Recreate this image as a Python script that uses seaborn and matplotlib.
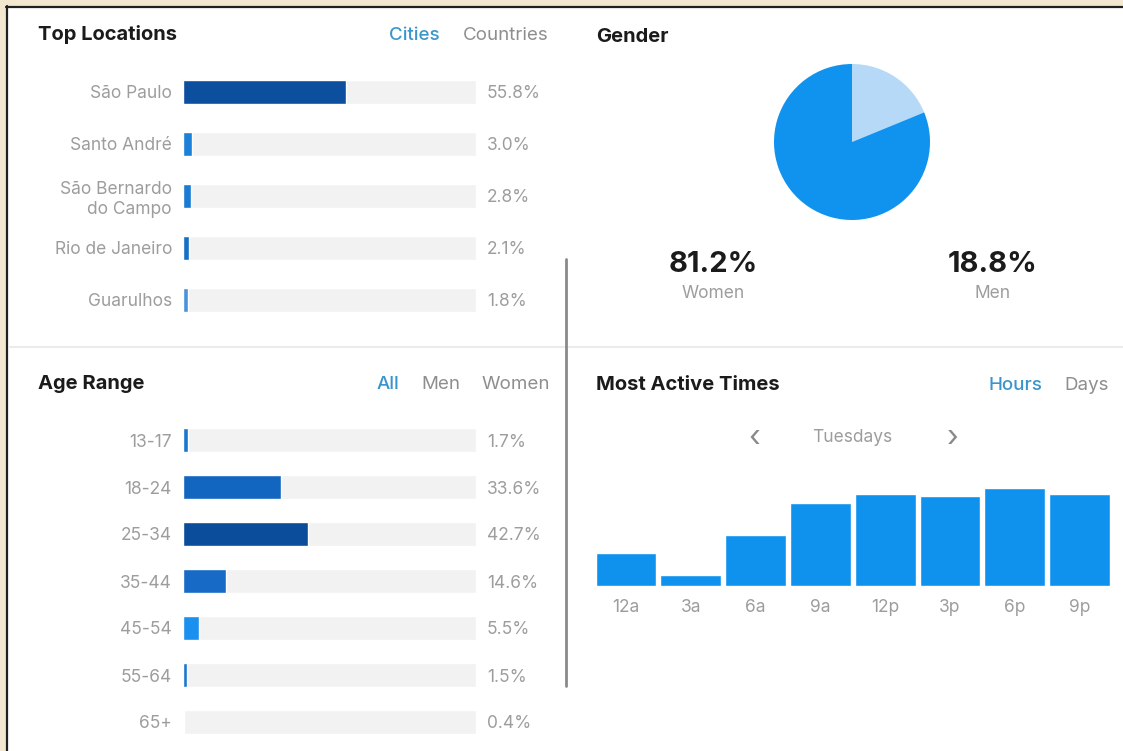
import matplotlib
matplotlib.use("Agg")
import matplotlib.pyplot as plt
import seaborn as sns
import pandas as pd
from matplotlib.lines import Line2D
from matplotlib.patches import Rectangle
import matplotlib.transforms as mtransforms

# ---------------- data ----------------
cities = ["São Paulo", "Santo André", "São Bernardo\ndo Campo", "Rio de Janeiro", "Guarulhos"]
city_pct = [55.8, 3.0, 2.8, 2.1, 1.8]

age_ranges = ["13-17", "18-24", "25-34", "35-44", "45-54", "55-64", "65+"]
age_pct = [1.7, 33.6, 42.7, 14.6, 5.5, 1.5, 0.4]

gender_labels = ["Men", "Women"]
gender_pct = [18.8, 81.2]

hours = ["12a", "3a", "6a", "9a", "12p", "3p", "6p", "9p"]
activity = [33, 11, 51, 83, 92, 90, 98, 92]

city_tabs = ["Cities", "Countries"]
age_tabs = ["All", "Men", "Women"]
time_tabs = ["Hours", "Days"]
day_label = "Tuesdays"

# ---------------- style ----------------
sns.set_theme(style="white")
plt.rcParams["font.family"] = ["Inter", "DejaVu Sans"]

W, H = 1123, 751
fig = plt.figure(figsize=(W / 100, H / 100), dpi=100)
fig.patch.set_facecolor("#f3e8cf")

TITLE_C = "#1b1b1b"
GRAY = "#9d9d9d"
TAB_ON = "#3a95cc"
TAB_OFF = "#8e8e8e"
TRACK = "#f2f2f2"
TITLE_FS = 14.5
LABEL_FS = 12.5
TAB_FS = 13.5

city_colors = ["#0c4f9f", "#1a80d8", "#1a7bd2", "#1670c4", "#4a93dc"]
age_colors = ["#1a78cf", "#1366c0", "#0b4d9b", "#176bc7", "#1c90ef", "#1a78cf", "#1a90ef"]
pie_colors = ["#b5d9f7", "#0f93ee"]
active_color = "#0f92ee"


def fx(x):
    return x / W


def fy(y):
    return 1 - y / H


def axes_px(x0, y0, x1, y1):
    ax = fig.add_axes([x0 / W, 1 - y1 / H, (x1 - x0) / W, (y1 - y0) / H])
    ax.set_facecolor("none")
    return ax


def ftext(x, y, s, **kw):
    kw.setdefault("va", "center_baseline")
    fig.text(fx(x), fy(y), s, **kw)


# white panel with dark left/top edge
fig.add_artist(Rectangle((fx(6), 0), 1 - fx(6), fy(6), transform=fig.transFigure,
                         facecolor="white", edgecolor="none", zorder=0))
fig.add_artist(Line2D([fx(6.5), fx(6.5)], [0, fy(6)], transform=fig.transFigure,
                      color="#202020", lw=1.6))
fig.add_artist(Line2D([fx(6), 1], [fy(6.5), fy(6.5)], transform=fig.transFigure,
                      color="#202020", lw=1.6))
# separators
fig.add_artist(Line2D([fx(10), 1], [fy(347), fy(347)], transform=fig.transFigure,
                      color="#ebebeb", lw=1.5))
fig.add_artist(Line2D([fx(566), fx(566)], [fy(259), fy(686)], transform=fig.transFigure,
                      color="#8a8a8a", lw=2))


def hbar_panel(ax, cats, vals, colors, width):
    df = pd.DataFrame({"cat": cats, "val": vals, "track": [100] * len(cats)})
    sns.barplot(data=df, x="track", y="cat", color=TRACK, width=width, ax=ax,
                saturation=1, order=cats)
    sns.barplot(data=df, x="val", y="cat", hue="cat", palette=colors, width=width,
                ax=ax, saturation=1, order=cats, hue_order=cats, legend=False)
    ax.set_xlim(0, 100)
    ax.set_ylim(len(cats) - 0.5, -0.5)
    ax.set_xlabel("")
    ax.set_ylabel("")
    ax.set_xticks([])
    ax.tick_params(axis="y", length=0, pad=8, labelsize=LABEL_FS, labelcolor=GRAY)
    for s in ax.spines.values():
        s.set_visible(False)
    trans = mtransforms.blended_transform_factory(ax.transAxes, ax.transData)
    for i, v in enumerate(vals):
        ax.text(1.0375, i, f"{v:.1f}%", transform=trans, va="center_baseline", ha="left",
                fontsize=LABEL_FS, color=GRAY)


# ---------------- Top Locations ----------------
ftext(38, 33, "Top Locations", fontsize=TITLE_FS, fontweight="bold", color=TITLE_C)
ftext(414, 33, city_tabs[0], fontsize=TAB_FS, color=TAB_ON, ha="center", fontweight="medium")
ftext(506, 33, city_tabs[1], fontsize=TAB_FS, color=TAB_OFF, ha="center")
ax1 = axes_px(183, 66, 476, 326)
hbar_panel(ax1, cities, city_pct, city_colors, 0.46)

# ---------------- Age Range ----------------
ftext(38, 382, "Age Range", fontsize=TITLE_FS, fontweight="bold", color=TITLE_C)
ftext(388, 382, age_tabs[0], fontsize=TAB_FS, color=TAB_ON, ha="center", fontweight="medium")
ftext(441, 382, age_tabs[1], fontsize=TAB_FS, color=TAB_OFF, ha="center")
ftext(516, 382, age_tabs[2], fontsize=TAB_FS, color=TAB_OFF, ha="center")
ax2 = axes_px(183, 416.5, 476, 745.5)
hbar_panel(ax2, age_ranges, age_pct, age_colors, 0.51)

# ---------------- Gender ----------------
ftext(596, 35, "Gender", fontsize=TITLE_FS, fontweight="bold", color=TITLE_C)
ax3 = axes_px(774, 64, 930, 220)
ax3.pie(gender_pct, colors=pie_colors, startangle=90, counterclock=False,
        wedgeprops=dict(linewidth=0))
ax3.set_xlim(-1, 1)
ax3.set_ylim(-1, 1)
ax3.set_aspect("equal")
ax3.axis("off")
for xc, lab, pct in [(713, gender_labels[1], gender_pct[1]), (993, gender_labels[0], gender_pct[0])]:
    ftext(xc, 261, f"{pct:.1f}%", fontsize=21, fontweight="bold", color=TITLE_C, ha="center")
    ftext(xc, 291, lab, fontsize=LABEL_FS, color=GRAY, ha="center")

# ---------------- Most Active Times ----------------
ftext(596, 383, "Most Active Times", fontsize=TITLE_FS, fontweight="bold", color=TITLE_C)
ftext(1015, 383, time_tabs[0], fontsize=TAB_FS, color=TAB_ON, ha="center", fontweight="medium")
ftext(1087, 383, time_tabs[1], fontsize=TAB_FS, color=TAB_OFF, ha="center")
ftext(754, 436, "‹", fontsize=22, color="#8a8a8a", ha="center")
ftext(852, 436, day_label, fontsize=LABEL_FS, color=GRAY, ha="center")
ftext(953, 436, "›", fontsize=22, color="#8a8a8a", ha="center")

ax4 = axes_px(593.6, 486, 1112, 586)
df4 = pd.DataFrame({"hour": hours, "act": activity})
sns.barplot(data=df4, x="hour", y="act", color=active_color, saturation=1, width=0.94,
            ax=ax4, order=hours)
ax4.set_xlim(-0.5, len(hours) - 0.5)
ax4.set_ylim(0, 100)
ax4.set_xlabel("")
ax4.set_ylabel("")
ax4.set_yticks([])
ax4.tick_params(axis="x", length=0, pad=9, labelsize=LABEL_FS, labelcolor=GRAY)
for s in ax4.spines.values():
    s.set_visible(False)

fig.savefig("out.png", dpi=100, facecolor=fig.get_facecolor())
